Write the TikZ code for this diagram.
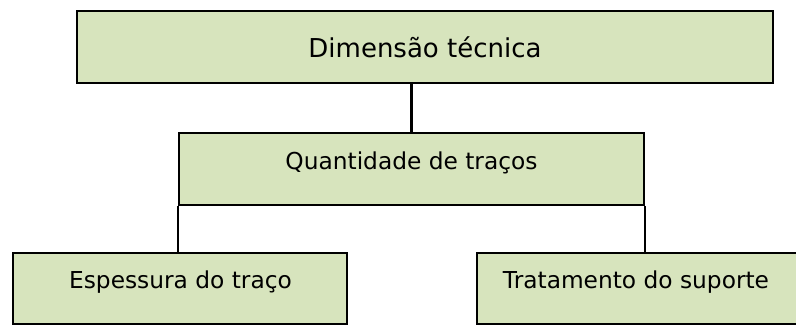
\documentclass[tikz,border=0pt]{standalone}
\usepackage{fontspec}
\setmainfont{DejaVu Sans}
\definecolor{boxfill}{HTML}{D7E4BD}
\begin{document}
\begin{tikzpicture}[x=1pt,y=-1pt,
  box/.style={draw=black, line width=2.2pt, fill=boxfill, rectangle, inner sep=0pt},
  lbl/.style={anchor=base, inner sep=0pt, text=black},
  big/.style={font=\fontsize{26}{30}\selectfont},
  small/.style={font=\fontsize{23.3}{28}\selectfont},
  conn/.style={draw=black, line width=2.2pt}]
\useasboundingbox (0,0) rectangle (796,325);
\clip (0,0) rectangle (796,325);
\node[box, minimum width=696pt, minimum height=72pt] (top) at (425,47) {};
\node[box, minimum width=465pt, minimum height=72pt] (mid) at (411.5,169) {};
\node[box, minimum width=334pt, minimum height=71pt] (left) at (180,288.5) {};
\node[box, minimum width=360pt, minimum height=71pt] (right) at (657,288.5) {};
\node[lbl, big] (ttop) at (425,57) {Dimensão técnica};
\node[lbl, small] (tmid) at (411.5,169) {Quantidade de traços};
\node[lbl, small] (tleft) at (180.5,288) {Espessura do traço};
\node[lbl, small] (tright) at (636,288) {Tratamento do suporte};
\draw[conn] (mid.north) -- (mid.north |- top.south);
\draw[conn] (mid.south west) -- (mid.south west |- left.north);
\draw[conn] (mid.south east) -- (mid.south east |- right.north);
\end{tikzpicture}
\end{document}
